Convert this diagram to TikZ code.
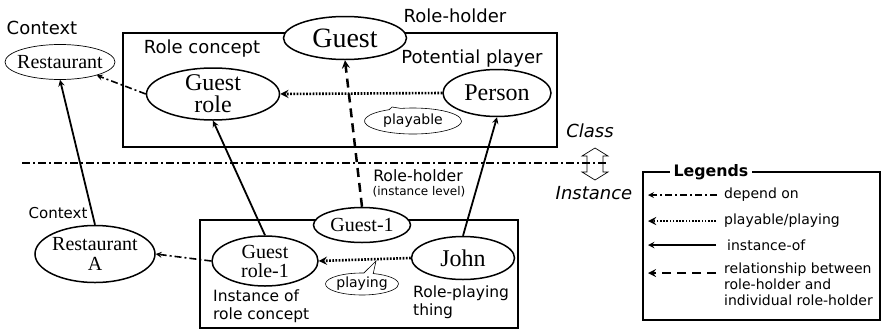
\documentclass[tikz,border=0pt]{standalone}
\usepackage{fontspec}
\setmainfont{Liberation Serif}
\setsansfont{DejaVu Sans}
\usepackage{tikz}
\usetikzlibrary{shapes.geometric,shapes.callouts}
\tikzset{>=stealth}
\tikzset{
  ent/.style={ellipse, draw, line width=1.5pt, fill=white, align=center,
    inner xsep=-20pt, inner ysep=-3pt},
  lbl/.style={font=\sffamily\fontsize{18}{20}\selectfont, inner sep=0pt},
  smlbl/.style={font=\sffamily\fontsize{15.5}{18}\selectfont, inner sep=0pt, align=left},
  leglbl/.style={font=\sffamily\fontsize{14}{16}\selectfont, inner sep=0pt, align=left, anchor=west},
  bubble/.style={ellipse callout, draw, line width=0.6pt, fill=white, inner sep=0pt,
    font=\sffamily\fontsize{14}{16}\selectfont},
  frame/.style={draw, line width=1.9pt},
  dep/.style={->, line width=1.6pt, dash pattern=on 7pt off 3pt on 2pt off 3pt},
  play/.style={->, line width=2.6pt, dash pattern=on 1.7pt off 1.5pt},
  inst/.style={->, line width=1.8pt},
  rh/.style={->, line width=2.5pt, dash pattern=on 9pt off 6pt}
}

\begin{document}
\begin{tikzpicture}[x=1pt, y=-1pt]
    \useasboundingbox (0,0) rectangle (883,330);

    % class level
    \draw[frame] (123,33) rectangle (557,147);
    \node[ent, minimum width=123, minimum height=43, font=\fontsize{28}{28}\selectfont] at (345,38) (guest) {Guest};
    \node[ent, line width=0.7pt, minimum width=110, minimum height=35, font=\fontsize{20}{20}\selectfont] at (60,62) (rest) {Restaurant};
    \node[ent, minimum width=133, minimum height=52, font=\fontsize{24}{22}\selectfont] at (213,94) (grole) {Guest\\role};
    \node[ent, minimum width=108, minimum height=47, font=\fontsize{24}{24}\selectfont] at (497,93) (person) {Person};

    \node[lbl] at (42,28) (ctx) {Context};
    \node[lbl] at (455,16) (rhlbl) {Role-holder};
    \node[lbl] at (202,49) (rclbl) {Role concept};
    \node[lbl] at (472,59) (pplbl) {Potential player};

    \draw[play] (person.west) -- (grole.east);
    \draw[dep] (grole.west) -- (rest.-20);
    \node[bubble, minimum width=97, minimum height=26, callout absolute pointer={(392,107)}] at (413,121) (playable) {playable};

    % class / instance border
    \coordinate (sepl) at (22,163);
    \coordinate (sepr) at (608,163);
    \draw[line width=1.2pt, dash pattern=on 8pt off 3pt on 2pt off 3pt] (sepl) -- (sepr);
    \draw[line width=0.7pt] (595,148) -- (608,156) -- (603,156) -- (603,172) -- (608,172) -- (595,180)
        -- (582,172) -- (587,172) -- (587,156) -- (582,156) -- cycle;
    \node[lbl, font=\sffamily\itshape\fontsize{18}{20}\selectfont] at (590,131) (cls) {Class};
    \node[lbl, font=\sffamily\itshape\fontsize{18}{20}\selectfont] at (594,193) (ins) {Instance};

    % instance level
    \draw[frame] (200,220) rectangle (518,328);
    \node[ent, minimum width=97, minimum height=35, font=\fontsize{20}{20}\selectfont] at (362,225) (guest1) {Guest-1};
    \node[ent, minimum width=120, minimum height=57, font=\fontsize{20}{20}\selectfont] at (95,254) (resta) {Restaurant\\A};
    \node[ent, minimum width=106, minimum height=50, font=\fontsize{20}{19}\selectfont] at (265,261) (grole1) {Guest\\role-1};
    \node[ent, minimum width=103, minimum height=43, font=\fontsize{24}{24}\selectfont] at (463,258) (john) {John};

    \node[lbl, font=\sffamily\fontsize{15.7}{18}\selectfont] at (418,176) (rhilbl) {Role-holder};
    \node[lbl, font=\sffamily\fontsize{12}{14}\selectfont] at (419,192) (rhisub) {(instance level)};
    \node[lbl, font=\sffamily\fontsize{15}{18}\selectfont] at (58,213) (ctxa) {Context};
    \node[smlbl, anchor=west] at (213,306) (irclbl) {Instance of\\role concept};
    \node[smlbl, anchor=west] at (413,302) (rptlbl) {Role-playing\\thing};

    \draw[play] (john.west) -- (grole1.east);
    \draw[dep] (grole1.west) -- (resta.east);
    \node[bubble, minimum width=73, minimum height=22, callout absolute pointer={(376,261)}] at (362,284) (playing) {playing};

    % between levels
    \draw[inst] (resta.north) -- (rest.south);
    \draw[inst] (grole1.north) -- (grole.south);
    \draw[inst] (john.north) -- (person.south);
    \draw[rh] (guest1.north) -- (guest.south);

    % legend
    \draw[frame] (643,172) rectangle (880,320);
    \node[lbl, font=\sffamily\bfseries\fontsize{15.8}{18}\selectfont, fill=white, inner xsep=4pt] at (711,172) (legtitle) {Legends};
    \node[leglbl] at (724,195) (ldep) {depend on};
    \node[leglbl] at (724,221) (lplay) {playable/playing};
    \node[leglbl] at (727,245) (linst) {instance-of};
    \node[leglbl] at (724,284) (lrh) {relationship between\\role-holder and\\individual\ role-holder};
    \draw[dep] ([xshift=-7pt]ldep.west) -- ++(-69,0);
    \draw[play] ([xshift=-8pt]lplay.west) -- ++(-68,0);
    \draw[inst] ([xshift=-11pt]linst.west) -- ++(-68,0);
    \draw[rh] ([shift={(-8pt,11pt)}]lrh.west) -- ++(-68,0);
\end{tikzpicture}
\end{document}
